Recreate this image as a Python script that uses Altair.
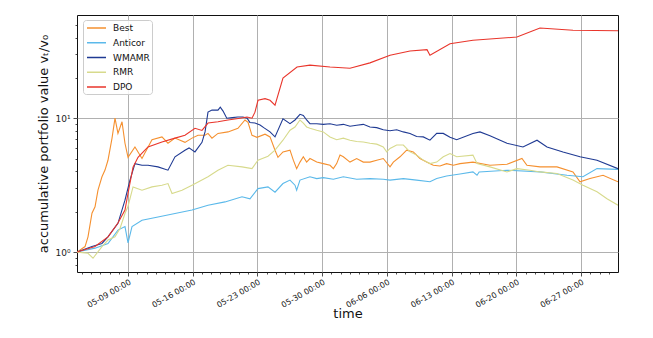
import altair as alt
import pandas as pd

START = "2016-05-03 11:30"
series_names = ["Best", "Anticor", "WMAMR", "RMR", "DPO"]
series_colors = ["#f5902f", "#5bb9ea", "#1f3a93", "#d7da8c", "#e9352b"]

# time = days after START, value = accumulative portfolio value
best_t = [0, 0.87, 1.19, 1.62, 1.95, 2.27, 2.70, 3.03, 3.35, 3.79, 4.11, 4.43, 4.87, 5.19, 5.52,
          6.27, 7.03, 8.11, 9.19, 9.84, 10.60, 11.68, 12.44, 13.09, 13.85, 14.17, 14.6, 15.25,
          16.33, 17.41, 18.17, 18.50, 18.93, 19.47, 20.34, 20.88, 21.42, 21.74, 22.28,
          23.04, 23.40, 23.76, 24.12, 24.48, 24.84, 25.20, 25.93, 26.64, 27.37, 27.73, 28.09,
          28.45, 28.81, 29.53, 30.25, 30.97, 31.69, 32.42, 33.13, 33.86, 34.22, 34.94, 35.66,
          36.38, 37.10, 37.82, 38.54, 39.26, 39.98, 40.71, 41.43,
          42.83, 44.67, 46.51, 48.13, 48.67, 50.08, 51.92, 53.65, 54.41, 55.49, 56.90, 58.52]
best_v = [1.0, 1.1, 1.3, 1.95, 2.18, 2.9, 3.65, 4.1, 4.85, 7.1, 10.0, 7.7, 9.4, 6.5, 5.1,
          6.1, 5.0, 6.9, 7.25, 6.5, 7.1, 6.6, 7.1, 7.45, 7.45, 7.7, 7.1, 7.7,
          7.9, 8.4, 9.7, 9.3, 7.45, 7.2, 7.6, 7.25, 5.77, 5.1, 5.6,
          5.77, 4.86, 4.2, 4.7, 5.15, 4.7, 5.0, 4.7, 4.58, 4.45, 4.2, 4.58,
          5.3, 5.15, 4.7, 5.0, 4.7, 4.7, 4.86, 5.0, 4.33, 4.7, 5.15, 5.77,
          5.6, 5.0, 4.7, 4.45, 4.4, 4.58, 4.45, 4.58,
          4.7, 4.45, 4.53, 5.0, 4.45, 4.33, 4.33, 3.97, 3.35, 3.54, 3.75, 3.35]

anticor_t = [0, 1.95, 3.35, 4.43, 5.19, 5.52, 5.95, 7.03, 8.76, 10.60, 12.44, 14.17, 16.01,
             17.85, 18.71, 19.58, 20.66, 21.42, 22.28,
             23.04, 23.58, 23.76, 24.12, 25.20, 25.93, 26.64, 27.73, 28.81, 30.25, 31.69, 33.13,
             33.86, 35.30, 36.74, 38.18, 38.91, 39.98, 41.43,
             42.83, 43.27, 43.5, 46.51, 50.08, 53.0, 54.73, 56.25, 58.52]
anticor_v = [1.0, 1.07, 1.16, 1.46, 1.55, 1.17, 1.55, 1.73, 1.83, 1.94, 2.06, 2.24, 2.37,
             2.59, 2.5, 2.98, 3.07, 2.8, 3.25,
             3.45, 3.16, 2.9, 3.45, 3.65, 3.54, 3.6, 3.5, 3.65, 3.5, 3.54, 3.5,
             3.45, 3.54, 3.45, 3.35, 3.54, 3.7, 3.83,
             3.97, 3.75, 3.97, 4.09, 3.97, 3.75, 3.65, 4.2, 4.15]

wmamr_t = [0, 1.62, 2.70, 3.35, 4.43, 5.19, 5.73, 6.27, 7.03, 7.68, 8.76, 9.84, 10.60, 11.68,
           12.12, 12.76, 13.52, 13.85, 14.17, 14.6, 15.25, 15.5, 15.8, 16.2, 16.8, 17.4, 17.95,
           18.4, 18.7, 19.25, 19.8, 20.2, 20.88, 21.42, 22.28,
           23.04, 23.58, 24.12, 24.48, 24.84, 25.20, 25.93, 26.64, 27.37, 28.09, 28.81, 29.53,
           30.25, 30.97, 31.69, 32.42, 33.13, 33.86, 34.58, 35.30, 36.02, 36.74, 37.46, 38.18,
           38.91, 39.62, 40.35, 41.07,
           42.83, 43.59, 44.67, 46.51, 48.24, 49.76, 50.84, 52.57, 54.41, 56.25, 58.52]
wmamr_v = [1.0, 1.1, 1.16, 1.3, 1.64, 2.44, 3.45, 4.58, 4.45, 4.45, 4.33, 4.09, 5.15, 5.77,
           6.0, 5.6, 6.6, 7.9, 11.1, 11.5, 11.5, 12.1, 11.3, 10.0, 10.1, 10.2, 10.2,
           10.0, 9.3, 9.2, 8.9, 8.5, 7.9, 7.25, 9.9,
           9.1, 9.7, 10.7, 10.5, 9.7, 9.1, 9.1, 9.0, 9.1, 8.87, 9.0, 8.7,
           8.87, 9.0, 8.6, 8.5, 8.2, 8.06, 8.2, 7.9, 7.7, 7.3, 7.25, 6.85,
           7.7, 7.7, 7.2, 6.9,
           7.68, 7.9, 7.4, 6.5, 6.1, 6.85, 6.1, 5.6, 5.15, 4.86, 4.2]

rmr_t = [0, 1.19, 1.73, 2.70, 3.35, 4.11, 4.65, 5.19, 5.52, 6.06, 7.03, 8.11, 9.19, 9.84,
         10.28, 11.36, 12.44, 14.17, 15.25, 16.33, 17.85, 18.93, 19.58, 20.66, 21.42, 22.28,
         23.04, 23.58, 24.12, 24.48, 24.84, 25.20, 25.93, 26.64, 27.37, 28.09, 28.81, 29.53,
         30.25, 30.97, 31.69, 32.42, 33.13, 33.50, 33.86, 34.58, 35.30, 36.02, 36.74, 37.46,
         38.18, 38.91, 39.62, 40.35, 41.07,
         42.83, 43.27, 44.67, 46.51, 47.59, 49.0, 50.08, 51.92, 53.65, 54.73, 56.25, 57.33, 58.52]
rmr_v = [1.0, 0.98, 0.9, 1.1, 1.23, 1.3, 1.5, 1.94, 2.2, 3.07, 2.9, 3.07, 3.16, 3.25,
         2.74, 2.9, 3.16, 3.65, 4.09, 4.45, 4.33, 4.2, 4.86, 5.2, 5.77, 6.85,
         8.13, 8.6, 9.7, 9.2, 8.6, 8.4, 8.13, 7.9, 7.25, 6.9, 7.1, 6.85,
         6.7, 6.65, 6.5, 6.4, 6.1, 5.6, 5.95, 6.3, 6.3, 5.6, 5.3, 4.86,
         4.58, 4.7, 5.15, 5.45, 5.15,
         5.3, 4.58, 4.33, 3.97, 4.2, 4.09, 3.97, 3.86, 3.45, 3.16, 2.82, 2.5, 2.24]

dpo_t = [0, 1.95, 3.35, 4.43, 5.19, 5.52, 6.06, 6.60, 7.68, 9.19, 10.60, 11.68, 12.76, 13.52,
         14.17, 15.25, 16.33, 17.63, 18.39, 18.93, 19.25, 19.58, 20.34, 20.88, 21.42, 22.28,
         23.80, 25.20, 27.37, 29.53, 31.69, 33.86, 36.02, 37.86, 38.18, 40.35, 42.83, 47.59,
         50.08, 53.65, 58.52]
dpo_v = [1.0, 1.1, 1.3, 1.65, 2.06, 2.75, 4.3, 5.1, 6.1, 6.65, 7.1, 7.45, 8.4, 8.1,
         9.2, 9.4, 9.7, 10.0, 10.2, 10.0, 11.1, 13.6, 14.0, 13.6, 12.5, 19.9,
         24.1, 24.9, 24.1, 23.6, 25.9, 29.5, 31.8, 32.5, 29.5, 36.0, 38.2, 40.4,
         47.2, 45.4, 45.0]

y_major = [1, 10]
y_minor = [0.8, 0.9, 2, 3, 4, 5, 6, 7, 8, 9, 20, 30, 40, 50]

start = pd.Timestamp(START)
rows = []
for name, ts, vs in [("Best", best_t, best_v), ("Anticor", anticor_t, anticor_v),
                     ("WMAMR", wmamr_t, wmamr_v), ("RMR", rmr_t, rmr_v), ("DPO", dpo_t, dpo_v)]:
    for t, v in zip(ts, vs):
        rows.append({"series": name, "time": start + pd.Timedelta(days=t), "value": v})
df = pd.DataFrame(rows)

day_values = [alt.DateTime(year=2016, month=5, date=d) for d in range(4, 32)] + \
             [alt.DateTime(year=2016, month=6, date=d) for d in range(1, 31)]
is_major_x = "day(datum.value) == 1"

x_axis = alt.Axis(
    values=day_values,
    labelExpr="day(datum.value) == 1 ? timeFormat(datum.value, '%m-%d %H:%M') : ''",
    labelAngle=330, labelAlign="right", labelBaseline="top", labelFontSize=8,
    labelFont="DejaVu Sans", labelColor="#222", labelPadding=2,
    tickSize={"condition": {"test": is_major_x, "value": 4}, "value": 2},
    tickColor="#222", tickWidth=0.8,
    gridOpacity={"condition": {"test": is_major_x, "value": 1}, "value": 0},
    gridColor="#b0b0b0", gridWidth=1,
    domain=False, title="time", titleFont="DejaVu Sans", titleFontSize=13,
    titleFontWeight="normal", titleColor="#111", titleY=35, titleX=270.5,
    labelOverlap=False, labelFlush=False,
)

is_major_y = "datum.value == 1 || datum.value == 10"
y_axis = alt.Axis(
    values=y_major + y_minor,
    labelExpr="datum.value == 1 ? '10⁰' : (datum.value == 10 ? '10¹' : '')",
    labelFontSize=9, labelFont="DejaVu Sans", labelColor="#222", labelPadding=3,
    tickSize={"condition": {"test": is_major_y, "value": 4}, "value": 2},
    tickColor="#222", tickWidth=0.8,
    gridOpacity={"condition": {"test": is_major_y, "value": 1}, "value": 0},
    gridColor="#b0b0b0", gridWidth=1,
    domain=False, title="accumulative portfolio value vₜ/v₀",
    titleFont="DejaVu Sans", titleFontSize=13, titleFontWeight="normal", titleColor="#111",
    titleX=-27, titleY=128.5, titleAngle=270, titleAlign="center", titleBaseline="bottom",
    labelOverlap=False, labelFlush=False,
)

chart = alt.Chart(df).mark_line(strokeWidth=1.1, clip=True).encode(
    x=alt.X("time:T", axis=x_axis,
            scale=alt.Scale(domain=[alt.DateTime(year=2016, month=5, date=3, hours=11, minutes=30),
                                    alt.DateTime(year=2016, month=7, date=1)], nice=False)),
    y=alt.Y("value:Q", axis=y_axis,
            scale=alt.Scale(type="log", domain=[0.71, 59], nice=False)),
    color=alt.Color("series:N", sort=series_names,
                    scale=alt.Scale(domain=series_names, range=series_colors),
                    legend=alt.Legend(orient="none", legendX=6, legendY=5, title=None,
                                      symbolType="M-1.9,0H1.9", symbolSize=100,
                                      symbolStrokeWidth=1.5,
                                      labelFontSize=9, labelFont="DejaVu Sans", labelColor="#111",
                                      padding=2, rowPadding=3.75, labelOffset=10.5,
                                      symbolOffset=5.5,
                                      fillColor="rgba(255,255,255,0.85)", strokeColor="#cccccc",
                                      cornerRadius=3)),
).properties(
    width=541, height=257,
    autosize=alt.AutoSizeParams(type="none"),
    padding={"left": 69, "top": 7, "right": 27, "bottom": 58},
).configure_view(stroke="#111", strokeWidth=1)

chart.save("out.html", embed_options={"renderer": "svg", "actions": False})
